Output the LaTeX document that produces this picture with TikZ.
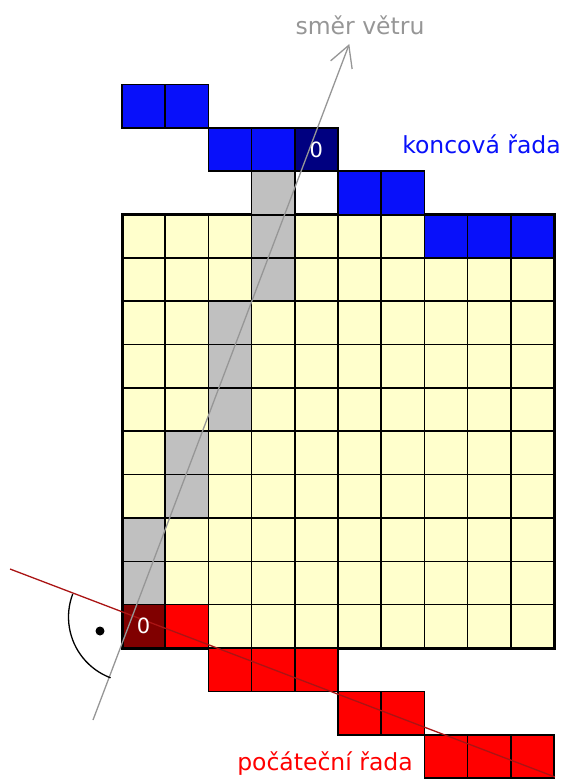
\documentclass[tikz,border=0pt]{standalone}
\usepackage{fontspec}
\setmainfont{DejaVu Sans}
\usetikzlibrary{arrows.meta,calc}
\definecolor{cellyellow}{RGB}{255,255,204}
\definecolor{cellgray}{RGB}{192,192,192}
\definecolor{cellblue}{RGB}{8,16,250}
\definecolor{cellnavy}{RGB}{0,0,128}
\definecolor{cellred}{RGB}{255,0,0}
\definecolor{celldarkred}{RGB}{128,0,0}
\definecolor{windgray}{RGB}{150,150,150}
\definecolor{rowline}{RGB}{170,20,20}
\begin{document}
\begin{tikzpicture}[x=1pt,y=1pt,
  cellbox/.style={draw=black,line width=1.6pt},
  zerolabel/.style={text=white,font=\fontsize{21}{24}\selectfont,inner sep=0pt},
  caption/.style={font=\fontsize{23.5}{28}\selectfont,inner sep=0pt}]
\useasboundingbox (0,0) rectangle (564,-783);
\begin{scope}[shift={(122,-648)},x=43.2pt,y=43.35pt]
  % field
  \fill[cellyellow] (0,0) rectangle (10,10);
  \foreach \c/\r in {0/1,0/2,1/3,1/4,2/5,2/6,2/7,3/8,3/9}
    \fill[cellgray] (\c,\r) rectangle ++(1,1);
  \foreach \c/\r in {7/9,8/9,9/9}
    \fill[cellblue] (\c,\r) rectangle ++(1,1);
  \fill[cellred] (1,0) rectangle (2,1);
  \fill[celldarkred] (0,0) rectangle (1,1);
  \foreach \i in {1,...,9} {
    \draw[line width=1.6pt] (\i,0) -- (\i,10);
    \draw[line width=1.6pt] (0,\i) -- (10,\i);
  }
  \draw[line width=3pt] (0,0) rectangle (10,10);
  % cells outside the field
  \draw[cellbox,fill=cellgray] (3,10) rectangle ++(1,1);
  \foreach \c/\r in {5/10,6/10,2/11,3/11,0/12,1/12}
    \draw[cellbox,fill=cellblue] (\c,\r) rectangle ++(1,1);
  \draw[cellbox,fill=cellnavy] (4,11) rectangle ++(1,1);
  \foreach \c/\r in {2/-1,3/-1,4/-1,5/-2,6/-2,7/-3,8/-3,9/-3}
    \draw[cellbox,fill=cellred] (\c,\r) rectangle ++(1,1);
  \coordinate (endzero) at (4.5,11.5);
  \coordinate (startzero) at (0.5,0.5);
\end{scope}
% lines
\coordinate (C) at (133.5,-617);
\coordinate (T) at (349.3,-44);
\coordinate (W) at (93,-720);
\coordinate (L) at (10,-569);
\coordinate (R) at (555,-777);
\draw[rowline,line width=1.3pt] (L) -- (R);
\draw[windgray,line width=1.3pt,-{Straight Barb[length=21pt,width=23pt,line width=1.3pt]}] (W) -- (T);
\draw[black,line width=1.3pt] ($(C)+(159.2:65)$) arc[start angle=159.2,end angle=249.3,radius=65];
\fill[black] (100,-631) circle (4.5);
% labels
\node[zerolabel] (z1) at (endzero) {0};
\node[zerolabel] (z0) at (startzero) {0};
\node[caption,text=cellblue] (konc) at (481.5,-144) {koncová řada};
\node[caption,text=cellred] (poc) at (325,-764) {počáteční řada};
\node[caption,text=windgray] (smer) at (360,-25) {směr větru};
\end{tikzpicture}
\end{document}
